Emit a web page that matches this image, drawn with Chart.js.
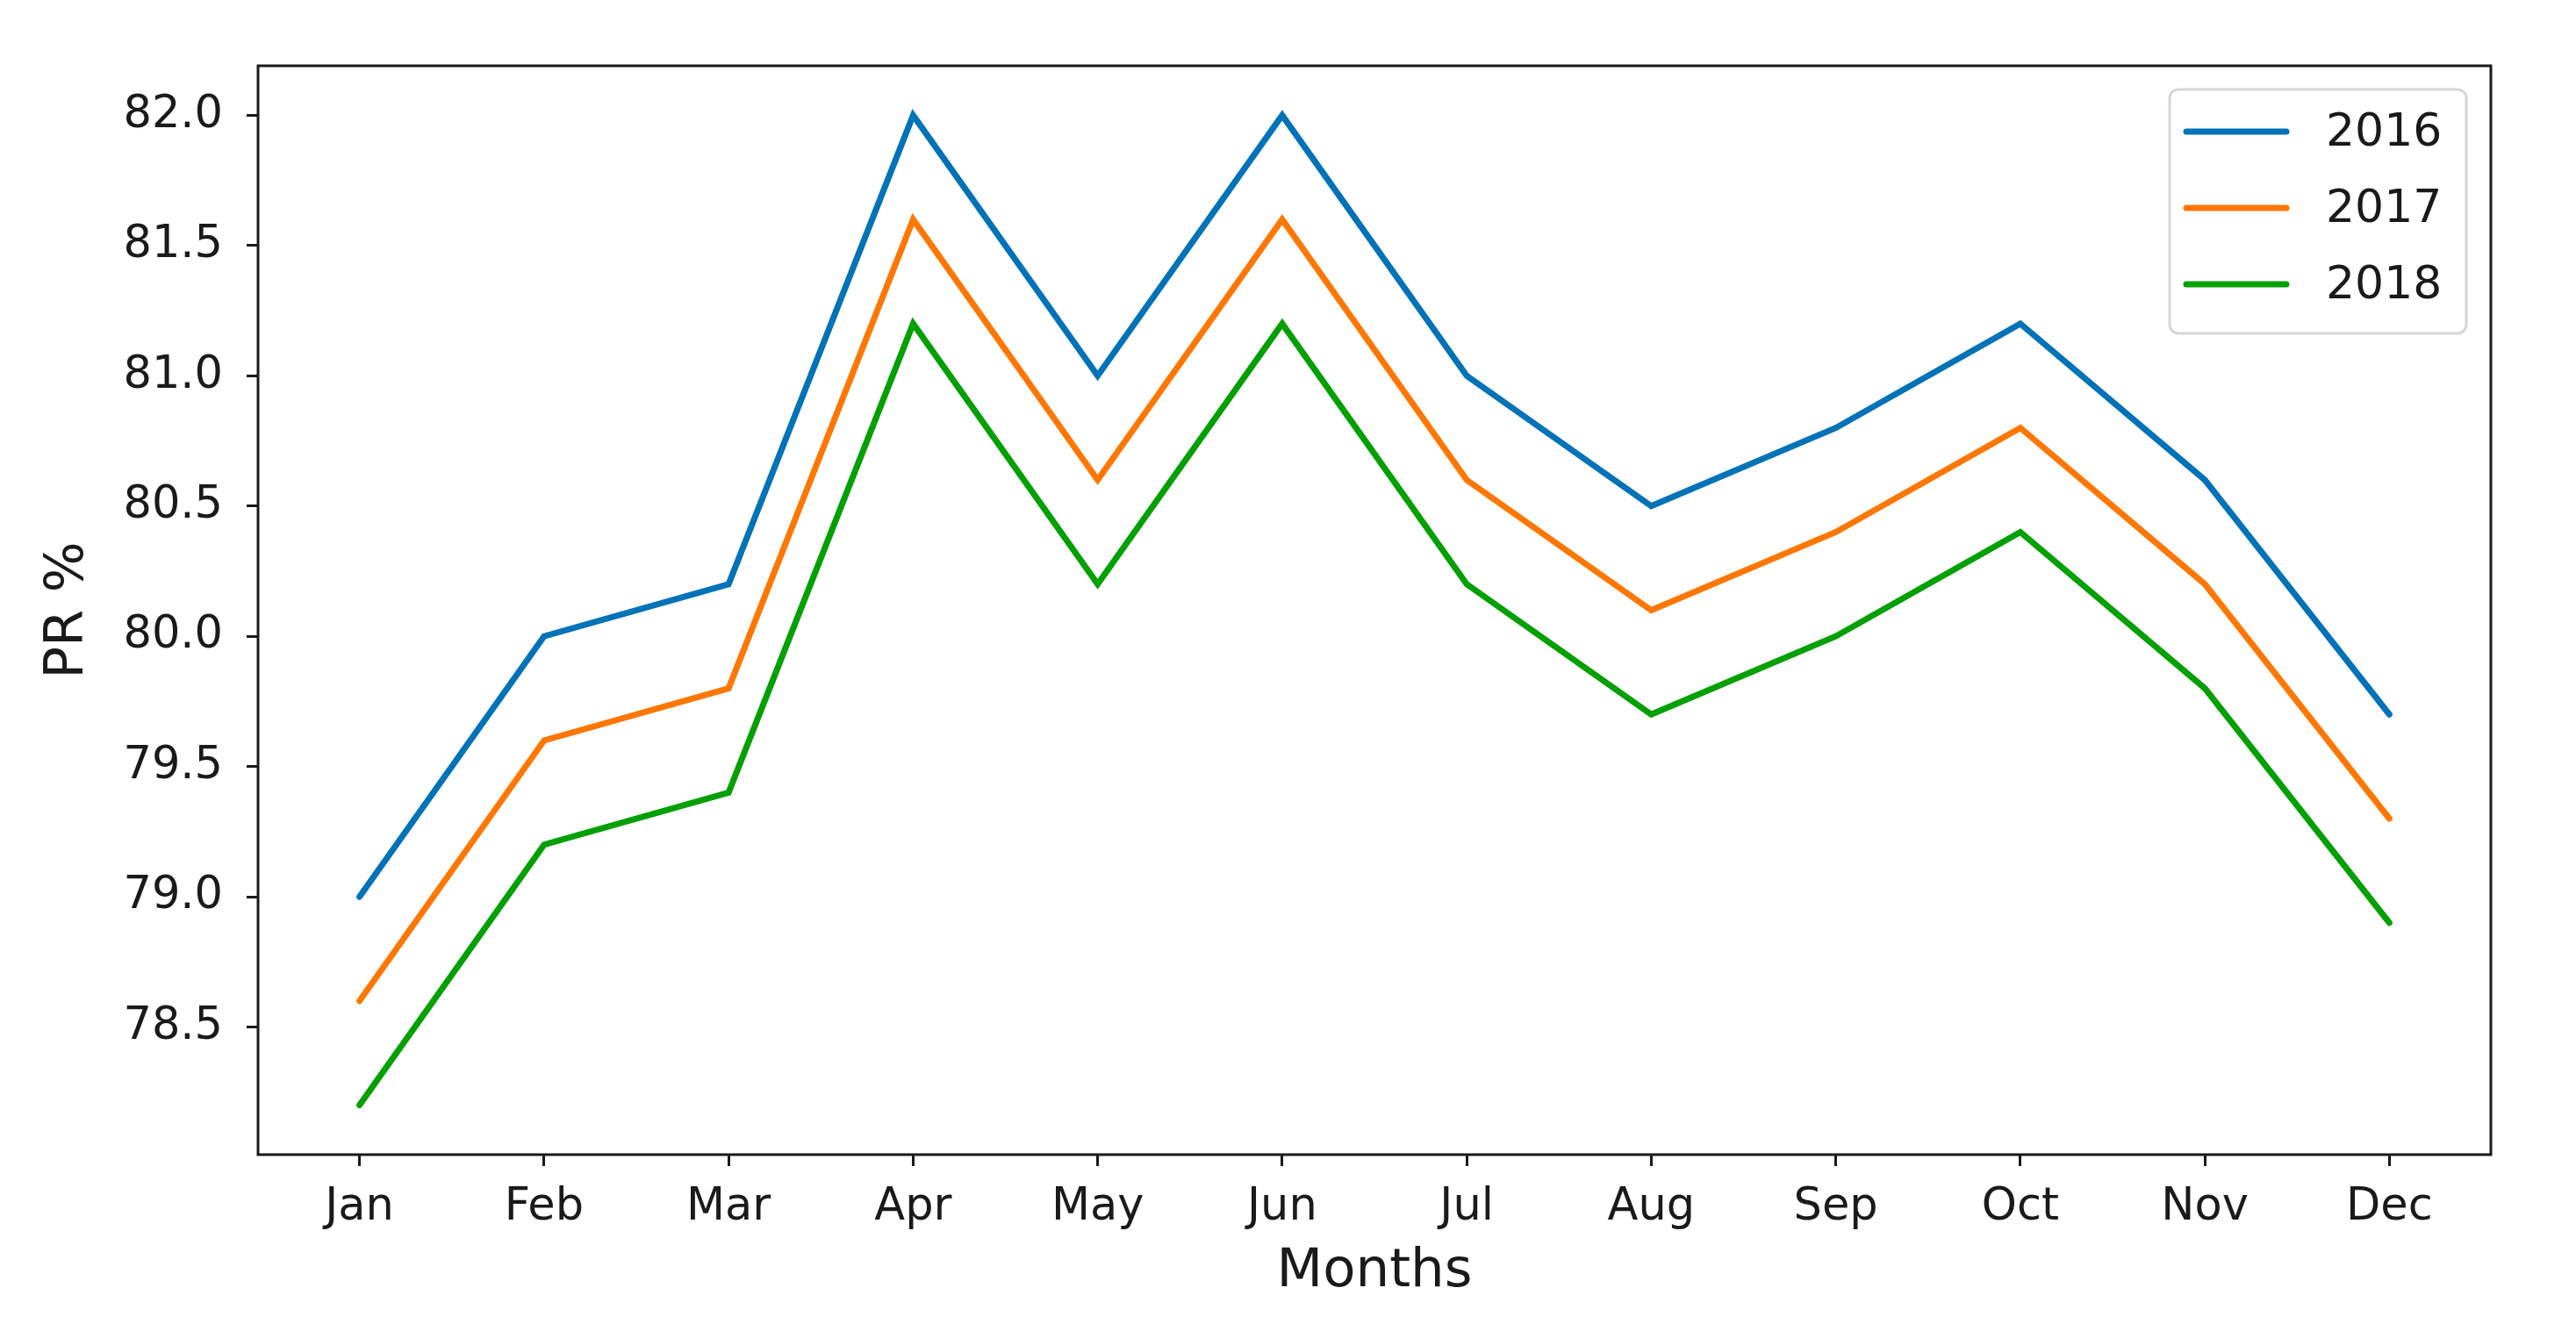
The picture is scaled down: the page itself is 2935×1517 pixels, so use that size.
<!DOCTYPE html>
<html>
<head>
<meta charset="utf-8">
<script src="https://cdn.jsdelivr.net/npm/chart.js@4/dist/chart.umd.min.js"></script>
<style>
  body { margin: 0; background: #fff; }
  #wrap { width: 2935px; height: 1517px; position: relative; }
</style>
</head>
<body>
<div id="wrap"><canvas id="myChart"></canvas></div>
<script>
"use strict";
var months = ["Jan", "Feb", "Mar", "Apr", "May", "Jun", "Jul", "Aug", "Sep", "Oct", "Nov", "Dec"];
var pr2016 = [79.0, 80.0, 80.2, 82.0, 81.0, 82.0, 81.0, 80.5, 80.8, 81.2, 80.6, 79.7];
var pr2017 = [78.6, 79.6, 79.8, 81.6, 80.6, 81.6, 80.6, 80.1, 80.4, 80.8, 80.2, 79.3];
var pr2018 = [78.2, 79.2, 79.4, 81.2, 80.2, 81.2, 80.2, 79.7, 80.0, 80.4, 79.8, 78.9];
var yTicks = [78.5, 79.0, 79.5, 80.0, 80.5, 81.0, 81.5, 82.0];

var ink = "#1a1a1a";
var font = "'DejaVu Sans', sans-serif";

function points(values) {
  return values.map(function(v, i) { return { x: i, y: v }; });
}

/* plot frame + legend box inside the plot, like matplotlib */
var framePlugin = {
  id: "frame",
  afterDraw: function(chart) {
    var c = chart.ctx, a = chart.chartArea;
    c.save();
    c.strokeStyle = ink;
    c.lineWidth = 3;
    c.strokeRect(a.left, a.top, a.right - a.left, a.bottom - a.top);

    // legend
    var bx = 2472, by = 102, bw = 338, bh = 278, r = 10;
    c.beginPath();
    c.moveTo(bx + r, by);
    c.arcTo(bx + bw, by, bx + bw, by + bh, r);
    c.arcTo(bx + bw, by + bh, bx, by + bh, r);
    c.arcTo(bx, by + bh, bx, by, r);
    c.arcTo(bx, by, bx + bw, by, r);
    c.closePath();
    c.fillStyle = "rgba(255,255,255,0.8)";
    c.fill();
    c.strokeStyle = "#d6d6d6";
    c.lineWidth = 3;
    c.stroke();

    c.font = "52px " + font;
    c.textBaseline = "middle";
    c.textAlign = "left";
    chart.data.datasets.forEach(function(ds, i) {
      var y = 150 + i * 87;
      c.beginPath();
      c.moveTo(2491, y);
      c.lineTo(2605, y);
      c.strokeStyle = ds.borderColor;
      c.lineWidth = 7;
      c.lineCap = "round";
      c.stroke();
      c.fillStyle = ink;
      c.fillText(ds.label, 2650, y + 2);
    });
    c.restore();
  }
};

var ctx = document.getElementById("myChart").getContext("2d");
var chart = new Chart(ctx, {
  type: "line",
  data: {
    datasets: [{
      label: "2016",
      borderColor: "#0072b8",
      data: points(pr2016)
    },
    {
      label: "2017",
      borderColor: "#ff7700",
      data: points(pr2017)
    },
    {
      label: "2018",
      borderColor: "#00a000",
      data: points(pr2018)
    }]
  },
  options: {
    responsive: true,
    maintainAspectRatio: false,
    animation: false,
    layout: { padding: { top: 75, right: 97, left: 0, bottom: 0 } },
    elements: {
      line: { borderWidth: 7, tension: 0, fill: false, borderCapStyle: "round", borderJoinStyle: "miter" },
      point: { radius: 0, hoverRadius: 0 }
    },
    plugins: {
      legend: { display: false },
      tooltip: { enabled: false }
    },
    scales: {
      x: {
        type: "linear",
        min: -0.55,
        max: 11.55,
        afterBuildTicks: function(scale) {
          scale.ticks = months.map(function(m, i) { return { value: i }; });
        },
        afterFit: function(scale) { scale.height = 201; },
        border: { display: false },
        grid: { drawOnChartArea: false, drawTicks: true, tickLength: 13, tickWidth: 3, color: ink },
        ticks: {
          autoSkip: false,
          maxRotation: 0,
          padding: 17,
          color: ink,
          font: { family: font, size: 51 },
          callback: function(v) { return months[v]; }
        },
        title: {
          display: true,
          text: "Months",
          color: ink,
          font: { family: font, size: 61 },
          padding: { top: 0, bottom: 30 }
        }
      },
      y: {
        min: 78.01,
        max: 82.19,
        afterBuildTicks: function(scale) {
          scale.ticks = yTicks.map(function(v) { return { value: v }; });
        },
        afterFit: function(scale) { scale.width = 294; },
        border: { display: false },
        grid: { drawOnChartArea: false, drawTicks: true, tickLength: 13, tickWidth: 3, color: ink },
        ticks: {
          padding: 27,
          color: ink,
          font: { family: font, size: 51 },
          callback: function(v) { return v.toFixed(1); }
        },
        title: {
          display: true,
          text: "PR %",
          color: ink,
          font: { family: font, size: 61 },
          padding: { top: 42, bottom: 0 }
        }
      }
    }
  },
  plugins: [framePlugin]
});
</script>
</body>
</html>
